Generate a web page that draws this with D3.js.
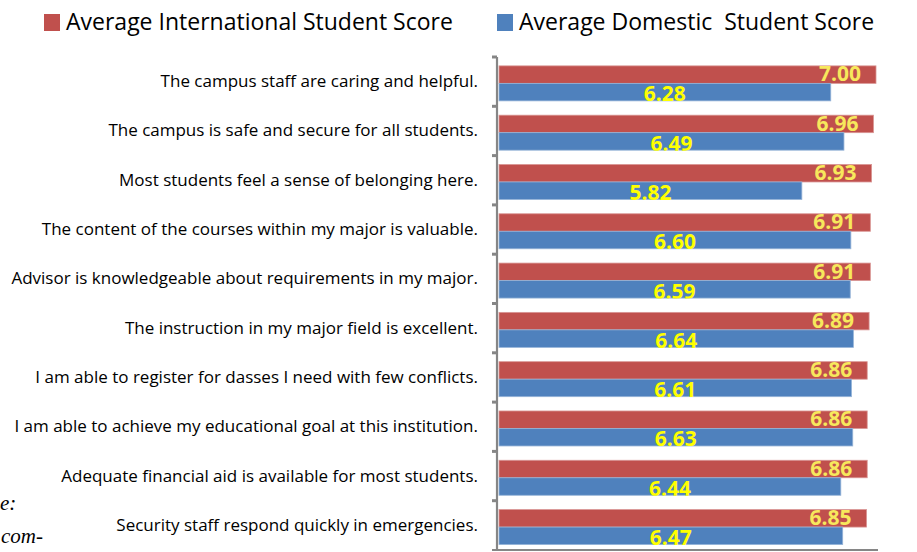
<!DOCTYPE html>
<html>
<head>
<meta charset="utf-8">
<script src="https://cdn.jsdelivr.net/npm/d3@7/dist/d3.min.js"></script>
<style>
  html, body { margin: 0; padding: 0; background: #fff; }
  svg { display: block; }
</style>
</head>
<body>
<svg id="chart" width="917" height="552"></svg>
<script>
const categories = [
  "The campus staff are caring and helpful.",
  "The campus is safe and secure for all students.",
  "Most students feel a sense of belonging here.",
  "The content of the courses within my major is valuable.",
  "Advisor is knowledgeable about requirements in my major.",
  "The instruction in my major field is excellent.",
  "I am able to register for dasses I need with few conflicts.",
  "I am able to achieve my educational goal at this institution.",
  "Adequate financial aid is available for most students.",
  "Security staff respond quickly in emergencies."
];
const internationalScores = [7.00, 6.96, 6.93, 6.91, 6.91, 6.89, 6.86, 6.86, 6.86, 6.85];
const domesticScores      = [6.28, 6.49, 5.82, 6.60, 6.59, 6.64, 6.61, 6.63, 6.44, 6.47];
const seriesNames = ["Average International Student Score", "Average Domestic  Student Score"];
const xDomain = [1, 7];

const svg = d3.select("#chart");
const colors = { intl: "#C0504D", dom: "#4F81BD", intlEdge: "#D99694", domEdge: "#95B3D7", axis: "#868686" };

const x = d3.scaleLinear().domain(xDomain).range([499, 876]);
const y = d3.scaleBand().domain(categories).range([57, 550]).padding(0);
const bw = y.bandwidth();

const defs = svg.append("defs");

// bars
const g = svg.append("g");
categories.forEach((c, i) => {
  const y0 = y(c);
  const rTop = y0 + bw * 0.18, h = bw * 0.355;
  const bTop = rTop + h;
  g.append("rect").attr("x", x(xDomain[0])).attr("y", rTop)
    .attr("width", x(internationalScores[i]) - x(xDomain[0])).attr("height", h)
    .attr("fill", colors.intl).attr("stroke", colors.intlEdge).attr("stroke-width", 0.8);
  g.append("rect").attr("x", x(xDomain[0])).attr("y", bTop)
    .attr("width", x(domesticScores[i]) - x(xDomain[0])).attr("height", h)
    .attr("fill", colors.dom).attr("stroke", colors.domEdge).attr("stroke-width", 0.8);

  // labels
  g.append("text").attr("x", x(internationalScores[i]) - 15).attr("y", rTop + h - 2)
    .attr("text-anchor", "end")
    .attr("font-family", "'Open Sans', sans-serif").attr("font-weight", "bold").attr("font-size", 21)
    .attr("fill", "#F7E85C").text(internationalScores[i].toFixed(2));

  const cid = "clipb" + i;
  defs.append("clipPath").attr("id", cid).append("rect")
    .attr("x", x(xDomain[0])).attr("y", bTop - 20).attr("width", 400).attr("height", h + 20.5);
  g.append("text").attr("x", (x(xDomain[0]) + x(domesticScores[i])) / 2).attr("y", bTop + h + 0.5)
    .attr("text-anchor", "middle").attr("clip-path", `url(#${cid})`)
    .attr("font-family", "'Open Sans', sans-serif").attr("font-weight", "bold").attr("font-size", 21)
    .attr("fill", "#FFFF00").text(domesticScores[i].toFixed(2));
});

// y axis (category labels)
const yAxis = svg.append("g").attr("transform", "translate(497,0)")
  .call(d3.axisLeft(y).tickSize(0).tickPadding(19));
yAxis.select(".domain").remove();
yAxis.selectAll("text")
  .attr("font-family", "'Open Sans', sans-serif").attr("font-size", 17).attr("fill", "#000");

// axis lines
svg.append("line").attr("x1", 497).attr("x2", 497).attr("y1", 57).attr("y2", 551)
  .attr("stroke", colors.axis).attr("stroke-width", 2.2);
svg.append("line").attr("x1", 492).attr("x2", 878).attr("y1", 550).attr("y2", 550)
  .attr("stroke", colors.axis).attr("stroke-width", 2);
const bounds = categories.map(c => y(c));
svg.selectAll(".tk").data(bounds).enter().append("line")
  .attr("x1", 492).attr("x2", 497).attr("y1", d => d).attr("y2", d => d)
  .attr("stroke", colors.axis).attr("stroke-width", 3);

// legend
const leg = svg.append("g");
const legX = [44, 497];
seriesNames.forEach((n, i) => {
  leg.append("rect").attr("x", legX[i]).attr("y", 14).attr("width", 16).attr("height", 17)
    .attr("fill", i === 0 ? colors.intl : colors.dom);
  leg.append("text").attr("x", legX[i] + 22).attr("y", 29.5)
    .attr("font-family", "'Open Sans', sans-serif").attr("font-size", 23)
    .style("white-space", "pre").attr("fill", "#000").text(n);
});

// side text partly outside the chart
svg.append("text").attr("x", 0).attr("y", 510)
  .attr("font-family", "'Liberation Serif', serif").attr("font-style", "italic").attr("font-size", 21)
  .text("e:");
svg.append("text").attr("x", 1).attr("y", 543)
  .attr("font-family", "'Liberation Serif', serif").attr("font-style", "italic").attr("font-size", 21)
  .text("com-");
</script>
</body>
</html>
